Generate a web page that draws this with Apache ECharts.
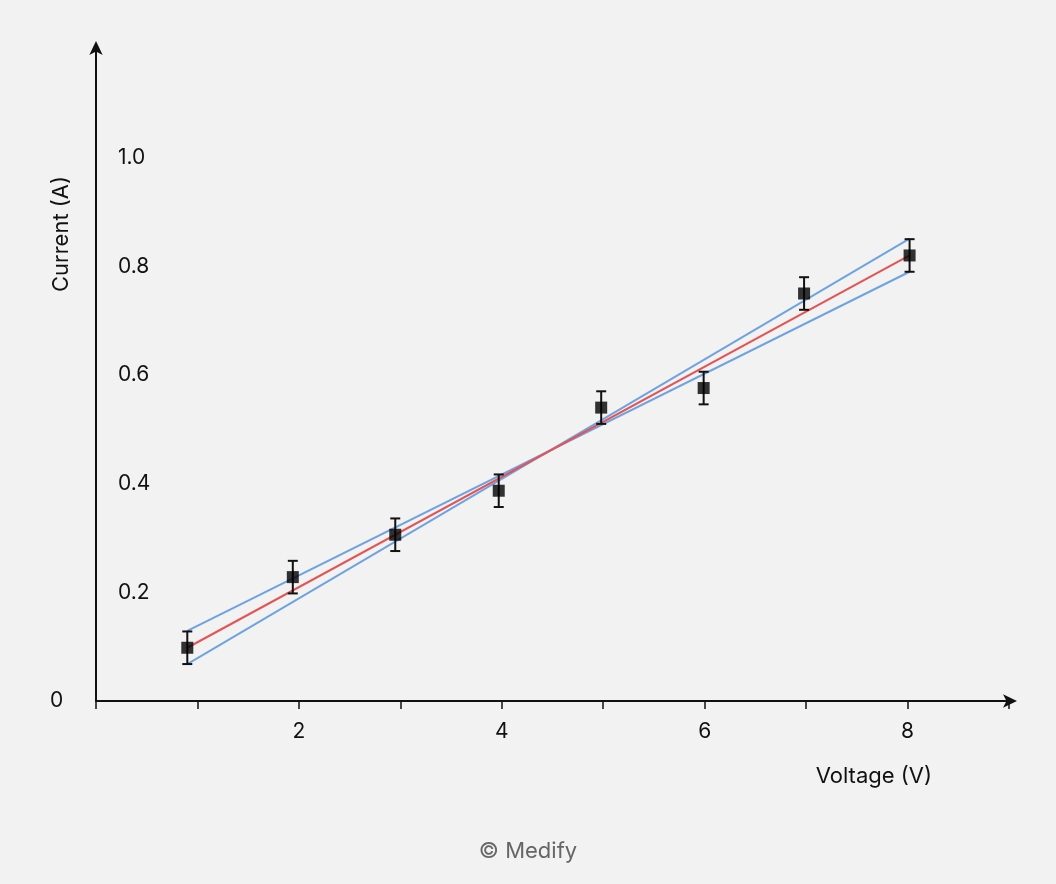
<!DOCTYPE html>
<html><head><meta charset="utf-8">
<script src="https://cdn.jsdelivr.net/npm/echarts@6/dist/echarts.min.js"></script>
<style>html,body{margin:0;padding:0;background:#f2f2f2}#c{width:1056px;height:884px}</style>
</head><body><div id="c"></div>
<script>
const voltage = [0.9, 1.94, 2.95, 3.97, 4.98, 5.99, 6.98, 8.02];
const current = [0.098, 0.228, 0.306, 0.387, 0.540, 0.576, 0.750, 0.820];
const errorHalf = [0.03, 0.03, 0.03, 0.03, 0.03, 0.03, 0.03, 0.03];
const bestFit = [[0.9, 0.098], [8.02, 0.820]];
const fitLowSlope = [[0.9, 0.129], [8.02, 0.790]];
const fitHighSlope = [[0.9, 0.068], [8.02, 0.851]];
const xTickLabels = [2, 4, 6, 8];
const yTickLabels = [0.2, 0.4, 0.6, 0.8, 1.0];

const font = 'Inter, "Noto Sans", sans-serif';
const chart = echarts.init(document.getElementById('c'));
const errData = voltage.map((v, i) => [v, current[i] - errorHalf[i], current[i] + errorHalf[i]]);
chart.setOption({
  backgroundColor: '#f2f2f2',
  animation: false,
  grid: {left: 96, right: 47, top: 49, bottom: 183},
  xAxis: {
    type: 'value', min: 0, max: 9, interval: 1,
    axisLine: {lineStyle: {color: '#111', width: 2}, symbol: ['none', 'arrow'], symbolSize: [10, 14], symbolOffset: [0, 8]},
    axisTick: {show: true, length: 8, lineStyle: {color: '#111', width: 1.5}},
    axisLabel: {color: '#111', fontSize: 21, fontFamily: font, margin: 20,
      formatter: v => xTickLabels.includes(v) ? String(v) : ''},
    splitLine: {show: false}
  },
  yAxis: {
    type: 'value', min: 0, max: 1.2, interval: 0.2,
    axisLine: {show: true, lineStyle: {color: '#111', width: 2}, symbol: ['none', 'arrow'], symbolSize: [10, 14], symbolOffset: [0, 8]},
    axisTick: {show: false},
    axisLabel: {inside: true, margin: 22, color: '#111', fontSize: 21, fontFamily: font,
      formatter: v => { const f = yTickLabels.find(t => Math.abs(t - v) < 1e-6); return f !== undefined ? f.toFixed(1) : ''; }},
    splitLine: {show: false}
  },
  graphic: [
    {type: 'text', left: 50, top: 690, style: {text: '0', fill: '#111', font: '21px ' + font}},
    {type: 'text', right: 124, top: 765, style: {text: 'Voltage (V)', fill: '#111', font: '22px ' + font}},
    {type: 'text', x: 50, y: 292, rotation: Math.PI / 2, style: {text: 'Current (A)', fill: '#111', font: '22px ' + font}},
    {type: 'text', left: 'center', top: 840, style: {text: '© Medify', fill: '#666', font: '22px ' + font}}
  ],
  series: [
    {type: 'line', data: fitLowSlope, symbol: 'none', lineStyle: {color: '#6fa3e0', width: 2}, z: 2},
    {type: 'line', data: fitHighSlope, symbol: 'none', lineStyle: {color: '#6fa3e0', width: 2}, z: 2},
    {type: 'line', data: bestFit, symbol: 'none', lineStyle: {color: '#e45454', width: 2}, z: 3},
    {type: 'custom', data: errData, z: 4,
      renderItem: (params, api) => {
        const lo = api.coord([api.value(0), api.value(1)]);
        const hi = api.coord([api.value(0), api.value(2)]);
        const w = 5, st = {stroke: '#111', lineWidth: 2};
        return {type: 'group', children: [
          {type: 'line', shape: {x1: lo[0], y1: lo[1], x2: hi[0], y2: hi[1]}, style: st},
          {type: 'line', shape: {x1: lo[0] - w, y1: lo[1], x2: lo[0] + w, y2: lo[1]}, style: st},
          {type: 'line', shape: {x1: hi[0] - w, y1: hi[1], x2: hi[0] + w, y2: hi[1]}, style: st}
        ]};
      }},
    {type: 'scatter', data: voltage.map((v, i) => [v, current[i]]), symbol: 'rect', symbolSize: 12,
      itemStyle: {color: '#000'}, z: 5}
  ]
});
</script></body></html>
